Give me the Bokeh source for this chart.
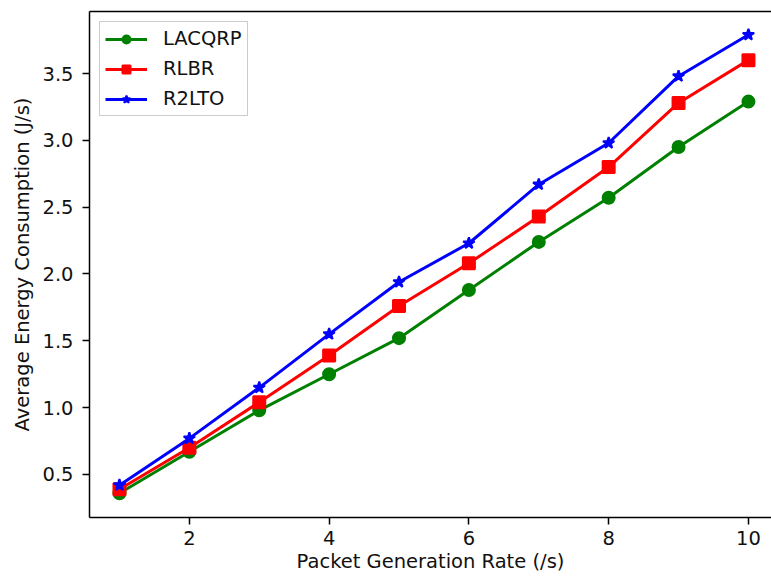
from bokeh.plotting import figure
from bokeh.models import Range1d, FixedTicker, PrintfTickFormatter, LinearAxis, Legend
from bokeh.embed import file_html
from bokeh.resources import INLINE

rate = [1, 2, 3, 4, 5, 6, 7, 8, 9, 10]
lacqrp = [0.36, 0.67, 0.98, 1.25, 1.52, 1.88, 2.24, 2.57, 2.95, 3.29]
rlbr = [0.39, 0.70, 1.04, 1.39, 1.76, 2.08, 2.43, 2.80, 3.28, 3.60]
r2lto = [0.42, 0.77, 1.15, 1.55, 1.94, 2.23, 2.67, 2.98, 3.48, 3.79]
x_ticks = [2, 4, 6, 8, 10]
y_ticks = [0.5, 1.0, 1.5, 2.0, 2.5, 3.0, 3.5]

FONT = "DejaVu Sans"
FS = "19.5px"

p = figure(width=771, height=580, output_backend="svg", toolbar_location=None,
           x_range=Range1d(0.571, 10.33), y_range=Range1d(0.178, 3.964),
           min_border_left=89, min_border_top=11, min_border_right=0, min_border_bottom=63)
p.outline_line_color = None
p.xgrid.visible = False
p.ygrid.visible = False

for ax in (p.xaxis[0], p.yaxis[0]):
    ax.axis_line_color = "black"
    ax.axis_line_width = 1.5
    ax.major_tick_line_color = "black"
    ax.major_tick_line_width = 1.5
    ax.major_tick_out = 7
    ax.major_tick_in = 0
    ax.minor_tick_line_color = None
    ax.major_label_text_font = FONT
    ax.major_label_text_font_size = FS
    ax.major_label_text_color = "#111111"
    ax.axis_label_text_font = FONT
    ax.axis_label_text_font_size = FS
    ax.axis_label_text_font_style = "normal"
    ax.axis_label_text_color = "#111111"

p.xaxis.ticker = FixedTicker(ticks=x_ticks)
p.yaxis.ticker = FixedTicker(ticks=y_ticks)
p.yaxis.formatter = PrintfTickFormatter(format="%.1f")
p.xaxis.axis_label = "Packet Generation Rate (/s)"
p.yaxis.axis_label = "Average Energy Consumption (J/s)"
p.xaxis.major_label_standoff = 6
p.yaxis.major_label_standoff = 9
p.xaxis.axis_label_standoff = 2
p.yaxis.axis_label_standoff = 5

top = LinearAxis(ticker=FixedTicker(ticks=[]), major_label_text_font_size="0px",
                 major_tick_out=0, major_tick_in=0, minor_tick_out=0, minor_tick_in=0,
                 major_label_standoff=0, axis_line_color="black", axis_line_width=1.5)
p.add_layout(top, "above")

series = [
    ("LACQRP", lacqrp, "#008000", "circle", 12),
    ("RLBR", rlbr, "#ff0000", "square", 12),
    ("R2LTO", r2lto, "#0000ff", "star", 12),
]
items = []
for name, ys, col, mk, sz in series:
    l = p.line(rate, ys, line_color=col, line_width=3)
    s = p.scatter(rate, ys, marker=mk, size=sz, fill_color=col, line_color=col, line_width=2)
    items.append((name, [l, s]))

legend = Legend(items=items, location="top_left")
legend.label_text_font = FONT
legend.label_text_font_size = FS
legend.label_text_color = "#111111"
legend.border_line_color = "#cccccc"
legend.border_line_width = 1.5
legend.border_line_alpha = 1
legend.background_fill_alpha = 0.8
legend.glyph_width = 42
legend.glyph_height = 20
legend.label_height = 20
legend.spacing = 7
legend.padding = 5
legend.margin = 10
legend.label_standoff = 16
p.add_layout(legend)

open("out.html", "w").write(file_html(p, INLINE))
